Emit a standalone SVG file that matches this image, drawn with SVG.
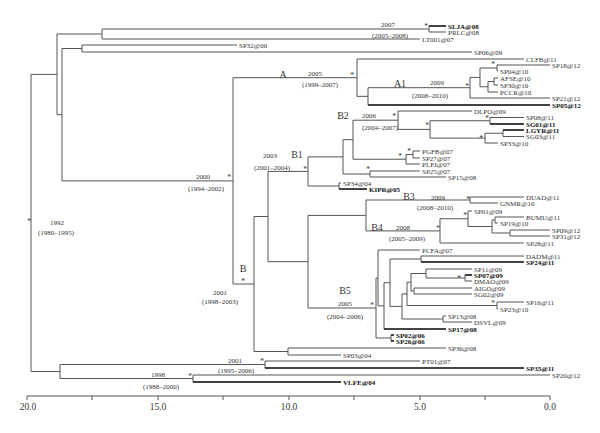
<svg xmlns="http://www.w3.org/2000/svg" width="600" height="433" viewBox="0 0 600 433">
<style>
text{font-family:"Liberation Serif","Times New Roman",serif;fill:#333}
.lf{font-size:7px}
.b{font-weight:bold;fill:#111}
.yr{font-size:7px;text-anchor:middle}
.cl{font-size:10px;text-anchor:middle}
.st{font-size:7.5px;text-anchor:middle}
.ax{font-size:9.5px;text-anchor:middle}
.br path{fill:none;stroke:#555;stroke-width:1}
.br path.bl{stroke:#222;stroke-width:1.4}
</style>
<rect width="600" height="433" fill="#fff"/>
<g id="connectors" class="br">
<path d="M446 26H429V32H446"/>
<path d="M429 29H102V39H420"/>
<path d="M237 45H82V52H472"/>
<path d="M550 65H497V71H498"/>
<path d="M498 78H494V85H498"/>
<path d="M494 81.5H488V92H498"/>
<path d="M497 68H480V86.75H488"/>
<path d="M480 77.4H470V98H550"/>
<path d="M470 87.7H368V105H550"/>
<path d="M524 59H357V96.35H368"/>
<path d="M524 117.5H490V124H524"/>
<path d="M524 130H503V136.5H524"/>
<path d="M503 133.25H485V143H498"/>
<path d="M490 120.75H430V138.1H485"/>
<path d="M472 111H398V129.4H430"/>
<path d="M420 151H413V158H420"/>
<path d="M413 154.5H406V164H420"/>
<path d="M398 120.2H353V159.25H406"/>
<path d="M420 171H370V177H446"/>
<path d="M353 139.7H343V174H370"/>
<path d="M341 183H339V189H367"/>
<path d="M343 156.9H308V186H339"/>
<path d="M524 197H470V203H498"/>
<path d="M524 217H495V223H498"/>
<path d="M550 230H510V236H550"/>
<path d="M495 220H492V233H510"/>
<path d="M472 211H468V226.5H492"/>
<path d="M468 218.75H440V243H524"/>
<path d="M470 200H366V230.9H440"/>
<path d="M524 256H421V262H524"/>
<path d="M472 275H465V281H472"/>
<path d="M472 269H426V278H465"/>
<path d="M472 288H414V294H472"/>
<path d="M426 273.5H411V291H414"/>
<path d="M524 302H497V309H498"/>
<path d="M411 282.25H407V305.5H497"/>
<path d="M446 316H443V322H472"/>
<path d="M407 293.9H402V319H443"/>
<path d="M421 259H390V306.4H402"/>
<path d="M390 282.7H384V329H446"/>
<path d="M420 250H378V305.9H384"/>
<path d="M394 335H391V341H394"/>
<path d="M378 278H376V338H391"/>
<path d="M366 215.4H308V308H376"/>
<path d="M308 171.4H268V261.7H308"/>
<path d="M446 348H288V355H341"/>
<path d="M268 216.5H254V351.5H288"/>
<path d="M357 77.7H233V284H254"/>
<path d="M82 48.5H62V180.9H233"/>
<path d="M102 34H57V114.7H62"/>
<path d="M420 361H265V368H524"/>
<path d="M550 375H193V382H341"/>
<path d="M265 364.5H60V378.5H193"/>
<path d="M57 74.4H31V371.5H60"/>
<path class="bl" d="M429 26H446M368 105H550M490 124H524M503 130H524M339 189H367M421 262H524M465 275H472M384 329H446M391 335H394M391 341H394M265 368H524M193 382H341"/>
</g>
<g id="axis">
<path d="M27 396H550M27 396V400M92 396V400M158 396V400M223 396V400M289 396V400M354 396V400M420 396V400M485 396V400M550 396V400" fill="none" stroke="#555" stroke-width="1"/>
<text class="ax" x="28" y="410">20.0</text>
<text class="ax" x="158" y="410">15.0</text>
<text class="ax" x="289" y="410">10.0</text>
<text class="ax" x="420" y="410">5.0</text>
<text class="ax" x="550" y="410">0.0</text>
</g>
<g id="leaves">
<g id="leaf-SLJA08"><text class="lf b" x="448" y="28.5">SLJA@08</text></g>
<g id="leaf-PRLC08"><text class="lf" x="448" y="34.5">PRLC@08</text></g>
<g id="leaf-LT00107"><text class="lf" x="422" y="41.5">LT001@07</text></g>
<g id="leaf-SP3200"><text class="lf" x="239" y="47.5">SP32@00</text></g>
<g id="leaf-SP0609"><text class="lf" x="474" y="54.5">SP06@09</text></g>
<g id="leaf-CLFB11"><text class="lf" x="526" y="61.5">CLFB@11</text></g>
<g id="leaf-SP1812"><text class="lf" x="552" y="67.5">SP18@12</text></g>
<g id="leaf-SP0410"><text class="lf" x="500" y="73.5">SP04@10</text></g>
<g id="leaf-AFSE10"><text class="lf" x="500" y="80.5">AFSE@10</text></g>
<g id="leaf-SP3010"><text class="lf" x="500" y="87.5">SP30@10</text></g>
<g id="leaf-PCCR10"><text class="lf" x="500" y="94.5">PCCR@10</text></g>
<g id="leaf-SP2112"><text class="lf" x="552" y="100.5">SP21@12</text></g>
<g id="leaf-SP0512"><text class="lf b" x="552" y="107.5">SP05@12</text></g>
<g id="leaf-DLPO09"><text class="lf" x="474" y="113.5">DLPO@09</text></g>
<g id="leaf-SP0811"><text class="lf" x="526" y="120">SP08@11</text></g>
<g id="leaf-SG0111"><text class="lf b" x="526" y="126.5">SG01@11</text></g>
<g id="leaf-LGYR11"><text class="lf b" x="526" y="132.5">LGYR@11</text></g>
<g id="leaf-SG0311"><text class="lf" x="526" y="139">SG03@11</text></g>
<g id="leaf-SP3310"><text class="lf" x="500" y="145.5">SP33@10</text></g>
<g id="leaf-PGFB07"><text class="lf" x="422" y="153.5">PGFB@07</text></g>
<g id="leaf-SP2707"><text class="lf" x="422" y="160.5">SP27@07</text></g>
<g id="leaf-PLEI07"><text class="lf" x="422" y="166.5">PLEI@07</text></g>
<g id="leaf-SP2507"><text class="lf" x="422" y="173.5">SP25@07</text></g>
<g id="leaf-SP1508"><text class="lf" x="448" y="179.5">SP15@08</text></g>
<g id="leaf-SP3404"><text class="lf" x="343" y="185.5">SP34@04</text></g>
<g id="leaf-KIPR05"><text class="lf b" x="369" y="191.5">KIPR@05</text></g>
<g id="leaf-DUAD11"><text class="lf" x="526" y="199.5">DUAD@11</text></g>
<g id="leaf-GNMR10"><text class="lf" x="500" y="205.5">GNMR@10</text></g>
<g id="leaf-SP0109"><text class="lf" x="474" y="213.5">SP01@09</text></g>
<g id="leaf-BUMU11"><text class="lf" x="526" y="219.5">BUMU@11</text></g>
<g id="leaf-SP1910"><text class="lf" x="500" y="225.5">SP19@10</text></g>
<g id="leaf-SP0912"><text class="lf" x="552" y="232.5">SP09@12</text></g>
<g id="leaf-SP3112"><text class="lf" x="552" y="238.5">SP31@12</text></g>
<g id="leaf-SP2811"><text class="lf" x="526" y="245.5">SP28@11</text></g>
<g id="leaf-PCFA07"><text class="lf" x="422" y="252.5">PCFA@07</text></g>
<g id="leaf-DADM11"><text class="lf" x="526" y="258.5">DADM@11</text></g>
<g id="leaf-SP2411"><text class="lf b" x="526" y="264.5">SP24@11</text></g>
<g id="leaf-SP1109"><text class="lf" x="474" y="271.5">SP11@09</text></g>
<g id="leaf-SP0709"><text class="lf b" x="474" y="277.5">SP07@09</text></g>
<g id="leaf-DMAO09"><text class="lf" x="474" y="283.5">DMAO@09</text></g>
<g id="leaf-AIGO09"><text class="lf" x="474" y="290.5">AIGO@09</text></g>
<g id="leaf-SG0209"><text class="lf" x="474" y="296.5">SG02@09</text></g>
<g id="leaf-SP1611"><text class="lf" x="526" y="304.5">SP16@11</text></g>
<g id="leaf-SP2310"><text class="lf" x="500" y="311.5">SP23@10</text></g>
<g id="leaf-SP1308"><text class="lf" x="448" y="318.5">SP13@08</text></g>
<g id="leaf-DSVL09"><text class="lf" x="474" y="324.5">DSVL@09</text></g>
<g id="leaf-SP1708"><text class="lf b" x="448" y="331.5">SP17@08</text></g>
<g id="leaf-SP0206"><text class="lf b" x="396" y="337.5">SP02@06</text></g>
<g id="leaf-SP2606"><text class="lf b" x="396" y="343.5">SP26@06</text></g>
<g id="leaf-SP3608"><text class="lf" x="448" y="350.5">SP36@08</text></g>
<g id="leaf-SP0304"><text class="lf" x="343" y="357.5">SP03@04</text></g>
<g id="leaf-PT0107"><text class="lf" x="422" y="363.5">PT01@07</text></g>
<g id="leaf-SP3511"><text class="lf b" x="526" y="370.5">SP35@11</text></g>
<g id="leaf-SP2012"><text class="lf" x="552" y="377.5">SP20@12</text></g>
<g id="leaf-VLFE04"><text class="lf b" x="343" y="384.5">VLFE@04</text></g>
</g>
<g id="node-SLJA"><text class="st" x="426" y="29">*</text><text class="yr" x="388" y="26.5">2007</text><text class="yr" x="390" y="37.5">(2005–2008)</text></g>
<g id="node-A"><text class="cl" x="283" y="77.5">A</text><text class="st" x="352" y="78">*</text><text class="yr" x="315" y="75.5">2005</text><text class="yr" x="320" y="86.5">(1999–2007)</text></g>
<g id="node-A1"><text class="cl" x="400" y="86.5">A1</text><text class="st" x="467" y="89">*</text><text class="yr" x="437" y="84.5">2009</text><text class="yr" x="430" y="97.5">(2008–2010)</text></g>
<g id="node-a"><text class="st" x="493" y="67">*</text></g>
<g id="node-AB"><text class="st" x="229" y="180">*</text><text class="yr" x="203" y="178.5">2000</text><text class="yr" x="206" y="190.5">(1994–2002)</text></g>
<g id="node-B2"><text class="cl" x="343" y="118.5">B2</text><text class="st" x="394" y="119">*</text><text class="yr" x="369" y="117.5">2006</text><text class="yr" x="380" y="129.5">(2004–2007)</text></g>
<g id="node-i"><text class="st" x="427" y="128">*</text></g>
<g id="node-f"><text class="st" x="487" y="121">*</text></g>
<g id="node-h"><text class="st" x="481" y="141">*</text></g>
<g id="node-B1"><text class="cl" x="297" y="157.5">B1</text><text class="st" x="305" y="172">*</text><text class="yr" x="270" y="157.5">2003</text><text class="yr" x="272" y="169.5">(2001–2004)</text></g>
<g id="node-k"><text class="st" x="400" y="159">*</text></g>
<g id="node-j"><text class="st" x="409" y="154">*</text></g>
<g id="node-m"><text class="st" x="368" y="172">*</text></g>
<g id="node-B3"><text class="cl" x="409" y="199.5">B3</text><text class="st" x="468" y="202">*</text><text class="yr" x="438" y="199.5">2009</text><text class="yr" x="435" y="209.5">(2008–2010)</text></g>
<g id="node-B4"><text class="cl" x="377" y="230.5">B4</text><text class="st" x="438" y="231">*</text><text class="yr" x="403" y="229.5">2008</text><text class="yr" x="407" y="240.5">(2005–2009)</text></g>
<g id="node-s"><text class="st" x="465" y="218">*</text></g>
<g id="node-B5"><text class="cl" x="345" y="293.5">B5</text><text class="st" x="372" y="308">*</text><text class="yr" x="345" y="305.5">2005</text><text class="yr" x="345" y="318.5">(2004–2006)</text></g>
<g id="node-n2"><text class="st" x="459" y="281">*</text></g>
<g id="node-16"><text class="st" x="493" y="306">*</text></g>
<g id="node-B"><text class="cl" x="243" y="271.5">B</text><text class="st" x="243" y="284">*</text><text class="yr" x="220" y="294.5">2001</text><text class="yr" x="220" y="303.5">(1998–2003)</text></g>
<g id="node-root"><text class="st" x="29" y="224">*</text><text class="yr" x="57" y="224.5">1992</text><text class="yr" x="56" y="234.5">(1980–1995)</text></g>
<g id="node-PT"><text class="st" x="262" y="364">*</text><text class="yr" x="235" y="362.5">2001</text><text class="yr" x="236" y="372.5">(1995–2006)</text></g>
<g id="node-VL"><text class="st" x="190" y="379">*</text><text class="yr" x="158" y="376.5">1998</text><text class="yr" x="161" y="388.5">(1988–2000)</text></g>
</svg>
